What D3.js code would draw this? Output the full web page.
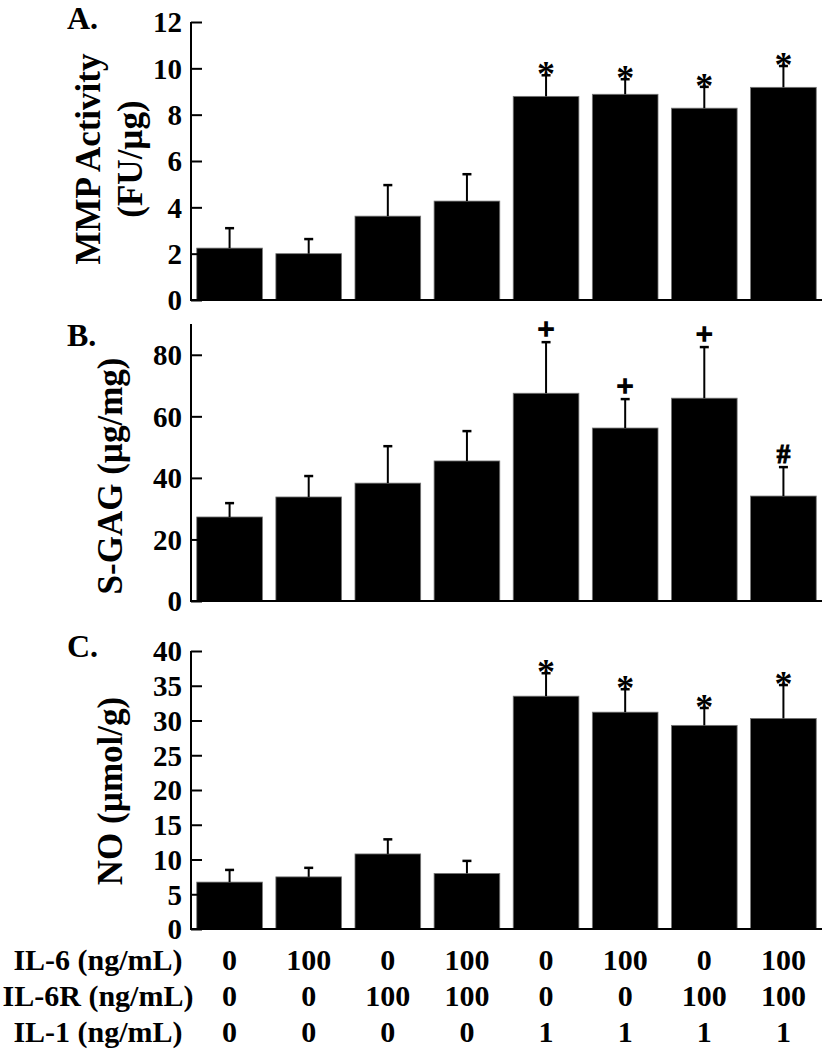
<!DOCTYPE html>
<html>
<head>
<meta charset="utf-8">
<script src="https://cdn.jsdelivr.net/npm/d3@7"></script>
<style>
  body { margin: 0; background: #fff; }
  text { font-family: "Liberation Serif", "Times New Roman", serif; font-weight: bold; fill: #000; }
</style>
</head>
<body>
<div id="chart"></div>
<script>
// treatment groups (columns of the table under the chart)
var groups = [0, 1, 2, 3, 4, 5, 6, 7];
var il6 = ["0", "100", "0", "100", "0", "100", "0", "100"];
var il6r = ["0", "0", "100", "100", "0", "0", "100", "100"];
var il1 = ["0", "0", "0", "0", "1", "1", "1", "1"];

// A. MMP activity
var mmpMean = [2.24, 2.0, 3.62, 4.27, 8.79, 8.88, 8.28, 9.18];
var mmpSd = [0.86, 0.63, 1.34, 1.16, 0.91, 0.65, 0.92, 0.92];
var mmpMark = ["", "", "", "", "*", "*", "*", "*"];
var mmpTicks = [0, 2, 4, 6, 8, 10, 12];

// B. S-GAG
var gagMean = [27.3, 33.8, 38.3, 45.5, 67.5, 56.2, 65.9, 34.1];
var gagSd = [4.5, 6.8, 12.0, 9.7, 16.6, 9.4, 16.6, 9.4];
var gagMark = ["", "", "", "", "+", "+", "+", "#"];
var gagTicks = [0, 20, 40, 60, 80];

// C. NO
var noMean = [6.75, 7.5, 10.8, 8.0, 33.5, 31.2, 29.3, 30.3];
var noSd = [1.75, 1.3, 2.1, 1.8, 3.3, 3.3, 2.5, 4.8];
var noMark = ["", "", "", "", "*", "*", "*", "*"];
var noTicks = [0, 5, 10, 15, 20, 25, 30, 35, 40];

var svgWidth = 823;
var svgHeight = 1050;

var svg = d3.select("#chart")
  .append("svg")
  .attr("width", svgWidth)
  .attr("height", svgHeight);

var xScale = d3.scaleBand()
  .domain(groups)
  .range([192, 821])
  .paddingInner(0.17)
  .paddingOuter(0.06);

var panels = [
  { letter: "A.", letterY: 29, top: 22, bottom: 300, max: 12, ticks: mmpTicks,
    mean: mmpMean, sd: mmpSd, mark: mmpMark, label: ["MMP Activity", "(FU/\u00b5g)"], labelY: 159 },
  { letter: "B.", letterY: 346, top: 324, bottom: 601, max: 90, ticks: gagTicks,
    mean: gagMean, sd: gagSd, mark: gagMark, label: ["S-GAG (\u00b5g/mg)"], labelY: 476 },
  { letter: "C.", letterY: 657, top: 651, bottom: 929, max: 40, ticks: noTicks,
    mean: noMean, sd: noSd, mark: noMark, label: ["NO (\u00b5mol/g)"], labelY: 791 }
];

panels.forEach(function(p) {
  var y = d3.scaleLinear()
    .domain([0, p.max])
    .range([p.bottom, p.top]);

  var g = svg.append("g");

  // bars
  g.selectAll("rect.bar")
    .data(groups)
    .enter()
    .append("rect")
    .attr("class", "bar")
    .attr("x", d => xScale(d))
    .attr("width", xScale.bandwidth())
    .attr("y", d => y(p.mean[d]))
    .attr("height", d => y(0) - y(p.mean[d]))
    .attr("fill", "#000")
    .attr("stroke", "#777")
    .attr("stroke-width", 0.8);

  // upper error bars
  var cx = d => xScale(d) + xScale.bandwidth() / 2;
  g.selectAll("line.err")
    .data(groups)
    .enter()
    .append("line")
    .attr("x1", cx).attr("x2", cx)
    .attr("y1", d => y(p.mean[d]))
    .attr("y2", d => y(p.mean[d] + p.sd[d]))
    .attr("stroke", "#000")
    .attr("stroke-width", 2);
  g.selectAll("line.cap")
    .data(groups)
    .enter()
    .append("line")
    .attr("x1", d => cx(d) - 4.5).attr("x2", d => cx(d) + 4.5)
    .attr("y1", d => y(p.mean[d] + p.sd[d]))
    .attr("y2", d => y(p.mean[d] + p.sd[d]))
    .attr("stroke", "#000")
    .attr("stroke-width", 2.5);

  // significance marks
  g.selectAll("text.mark")
    .data(groups.filter(d => p.mark[d] !== ""))
    .enter()
    .append("text")
    .attr("x", cx)
    .attr("y", d => y(p.mean[d] + p.sd[d]) + (p.mark[d] === "*" ? 11 : (p.mark[d] === "+" ? -3 : -4)))
    .attr("text-anchor", "middle")
    .attr("stroke", d => p.mark[d] === "*" ? "none" : "#000")
    .attr("stroke-width", d => p.mark[d] === "+" ? 1.6 : 1.1)
    .style("font-size", d => p.mark[d] === "*" ? "36px" : (p.mark[d] === "+" ? "30px" : "27px"))
    .text(d => p.mark[d]);

  // y axis, ticks pointing inward
  var leftAxis = d3.axisRight(y)
    .tickValues(p.ticks)
    .tickSize(11)
    .tickFormat(d3.format("d"));
  var ax = g.append("g")
    .attr("transform", "translate(191,0)")
    .call(leftAxis);
  ax.select(".domain").remove();
  ax.selectAll(".tick line").attr("stroke", "#000").attr("stroke-width", 2);
  ax.selectAll(".tick text")
    .attr("x", -9)
    .attr("text-anchor", "end")
    .attr("dy", "0.34em")
    .style("font-size", "29px")
    .style("font-family", "Liberation Serif")
    .style("font-weight", "bold");
  ax.append("line")
    .attr("x1", 0).attr("x2", 0)
    .attr("y1", p.top).attr("y2", p.bottom + 1)
    .attr("stroke", "#000").attr("stroke-width", 2);

  // x axis baseline
  g.append("line")
    .attr("x1", 190).attr("x2", 822)
    .attr("y1", p.bottom).attr("y2", p.bottom)
    .attr("stroke", "#000").attr("stroke-width", 2);

  // panel letter
  g.append("text")
    .attr("x", 67)
    .attr("y", p.letterY)
    .style("font-size", "32px")
    .text(p.letter);

  // y title
  var base = p.label.length === 2 ? 100 : 122;
  p.label.forEach(function(t, i) {
    g.append("text")
      .attr("transform", `translate(${base + i * 42}, ${p.labelY}) rotate(-90)`)
      .attr("text-anchor", "middle")
      .style("font-size", "35px")
      .text(t);
  });
});

// treatment table
var rows = [
  { label: "IL-6 (ng/mL)", vals: il6, y: 970 },
  { label: "IL-6R (ng/mL)", vals: il6r, y: 1006 },
  { label: "IL-1 (ng/mL)", vals: il1, y: 1042 }
];
rows.forEach(function(r) {
  svg.append("text")
    .attr("x", 98)
    .attr("y", r.y)
    .attr("text-anchor", "middle")
    .style("font-size", "30px")
    .text(r.label);
  svg.selectAll(null)
    .data(groups)
    .enter()
    .append("text")
    .attr("x", d => xScale(d) + xScale.bandwidth() / 2)
    .attr("y", r.y)
    .attr("text-anchor", "middle")
    .style("font-size", "30px")
    .text(d => r.vals[d]);
});
</script>
</body>
</html>
